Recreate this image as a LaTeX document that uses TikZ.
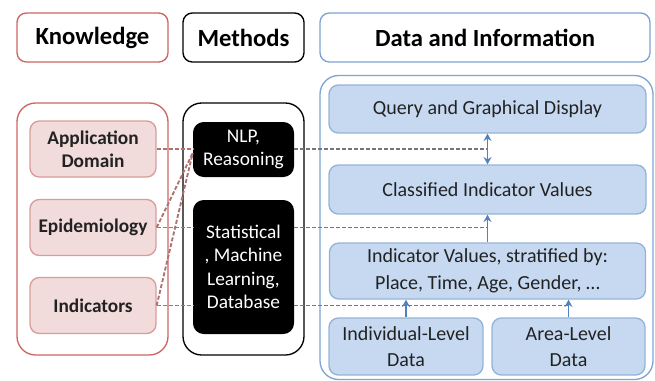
\documentclass[tikz,border=0pt]{standalone}
\usepackage{fontspec}
\setmainfont{Carlito}
\usetikzlibrary{arrows.meta}
\definecolor{Ink}{HTML}{222222}
\definecolor{Rose}{HTML}{CD6563}
\definecolor{RoseLine}{HTML}{DA9C9A}
\definecolor{SoftRose}{HTML}{F2DCDB}
\definecolor{Sky}{HTML}{7FA4D4}
\definecolor{SkyLine}{HTML}{95B3D7}
\definecolor{SoftSky}{HTML}{C6D9F1}
\definecolor{Link}{HTML}{767676}
\definecolor{RoseLink}{HTML}{AD7170}
\definecolor{Arrow}{HTML}{5282BE}

\begin{document}
\begin{tikzpicture}[
  x=0.75pt, y=-0.75pt,
  head/.style={rounded corners=7pt, line width=1pt, fill=white, minimum height=36.75pt, inner sep=0pt, font=\fontsize{18.5}{22}\selectfont\bfseries},
  panel/.style={rounded corners=14pt, line width=1pt, inner sep=0pt},
  know/.style={rounded corners=7pt, draw=RoseLine, line width=1pt, fill=SoftRose, text=Ink, align=center, inner sep=0pt,
    minimum width=94.5pt, minimum height=42pt, font=\fontsize{14.5}{17}\selectfont\bfseries},
  meth/.style={rounded corners=8pt, fill=black, text=white, align=center, inner sep=0pt,
    minimum width=75.75pt, font=\fontsize{14.5}{17.5}\selectfont},
  info/.style={rounded corners=7pt, draw=SkyLine, line width=1pt, fill=SoftSky, text=Ink, align=center, inner sep=0pt,
    font=\fontsize{15}{20}\selectfont},
  link/.style={dash pattern=on 3pt off 1.5pt, line width=1.4pt, draw=Link},
  rlink/.style={link, draw=RoseLink},
  flow/.style={-{Stealth[length=5.5pt, width=6pt]}, line width=1.3pt, draw=Arrow}
]
\useasboundingbox (0,0) rectangle (655,380);

% column headers
\node[head, draw=Rose, minimum width=113.25pt] (knowHead) at (92.5,37.5) {Knowledge};
\node[head, draw=black, minimum width=90.75pt] (methHead) at (243.5,37.5) {Methods};
\node[head, draw=Sky, minimum width=247.5pt] (dataHead) at (485,37.5) {Data and Information};

% column panels
\node[panel, draw=Rose, minimum width=113.25pt, minimum height=189pt] (knowBox) at (92.5,229) {};
\node[panel, draw=black, minimum width=90.75pt, minimum height=189pt] (methBox) at (243.5,229) {};
\node[panel, draw=Sky, minimum width=249.75pt, minimum height=228pt] (dataBox) at (486.5,227.5) {};

% knowledge
\node[know] (appDom) at (93,149) {Application\\Domain};
\node[know] (epid) at (93,227.5) {Epidemiology};
\node[know] (indic) at (93,305.5) {Indicators};

% methods
\node[meth, minimum height=41.25pt] (nlp) at (243.5,149.5) {NLP,\\Reasoning};
\node[meth, minimum height=100.5pt] (stat) at (243.5,267) {Statistical\\, Machine\\Learning,\\Database};

% data and information
\node[info, minimum width=237.75pt, minimum height=36pt] (query) at (487.5,109) {Query and Graphical Display};
\node[info, minimum width=237.75pt, minimum height=36.75pt] (classif) at (487.5,189.5) {Classified Indicator Values};
\node[info, minimum width=237pt, minimum height=42pt] (values) at (487.5,271) {Indicator Values, stratified by:\\Place, Time, Age, Gender, \dots};
\node[info, minimum width=115.5pt, minimum height=42.75pt] (indiv) at (406,346.5) {Individual-Level\\Data};
\node[info, minimum width=114.75pt, minimum height=42.75pt] (area) at (568.5,346.5) {Area-Level\\Data};

% links between the columns
\coordinate (nlpIn) at ([yshift=-2.6pt]nlp.west);
\draw[rlink] (appDom.east) -- (appDom.east -| nlp.west);
\draw[rlink] (epid.east) -- (nlpIn);
\draw[rlink] (indic.east) -- (nlpIn);
\draw[rlink] (epid.east) -- (epid.east -| stat.west);
\draw[rlink] (indic.east) -- (indic.east -| stat.west);
\draw[link] (appDom.east -| nlp.east) -- (appDom.east -| query.south);
\draw[link] (epid.east -| stat.east) -- (epid.east -| classif.south);
\draw[link] (indic.east -| stat.east) -- (indic.east -| area.north);

% data flow
\draw[flow, {Stealth[length=5.5pt, width=6pt]}-{Stealth[length=5.5pt, width=6pt]}] (query.south) -- (classif.north);
\draw[flow] (values.north -| classif.south) -- (classif.south);
\draw[flow] (indiv.north) -- (indiv.north |- values.south);
\draw[flow] (area.north) -- (area.north |- values.south);
\end{tikzpicture}
\end{document}
